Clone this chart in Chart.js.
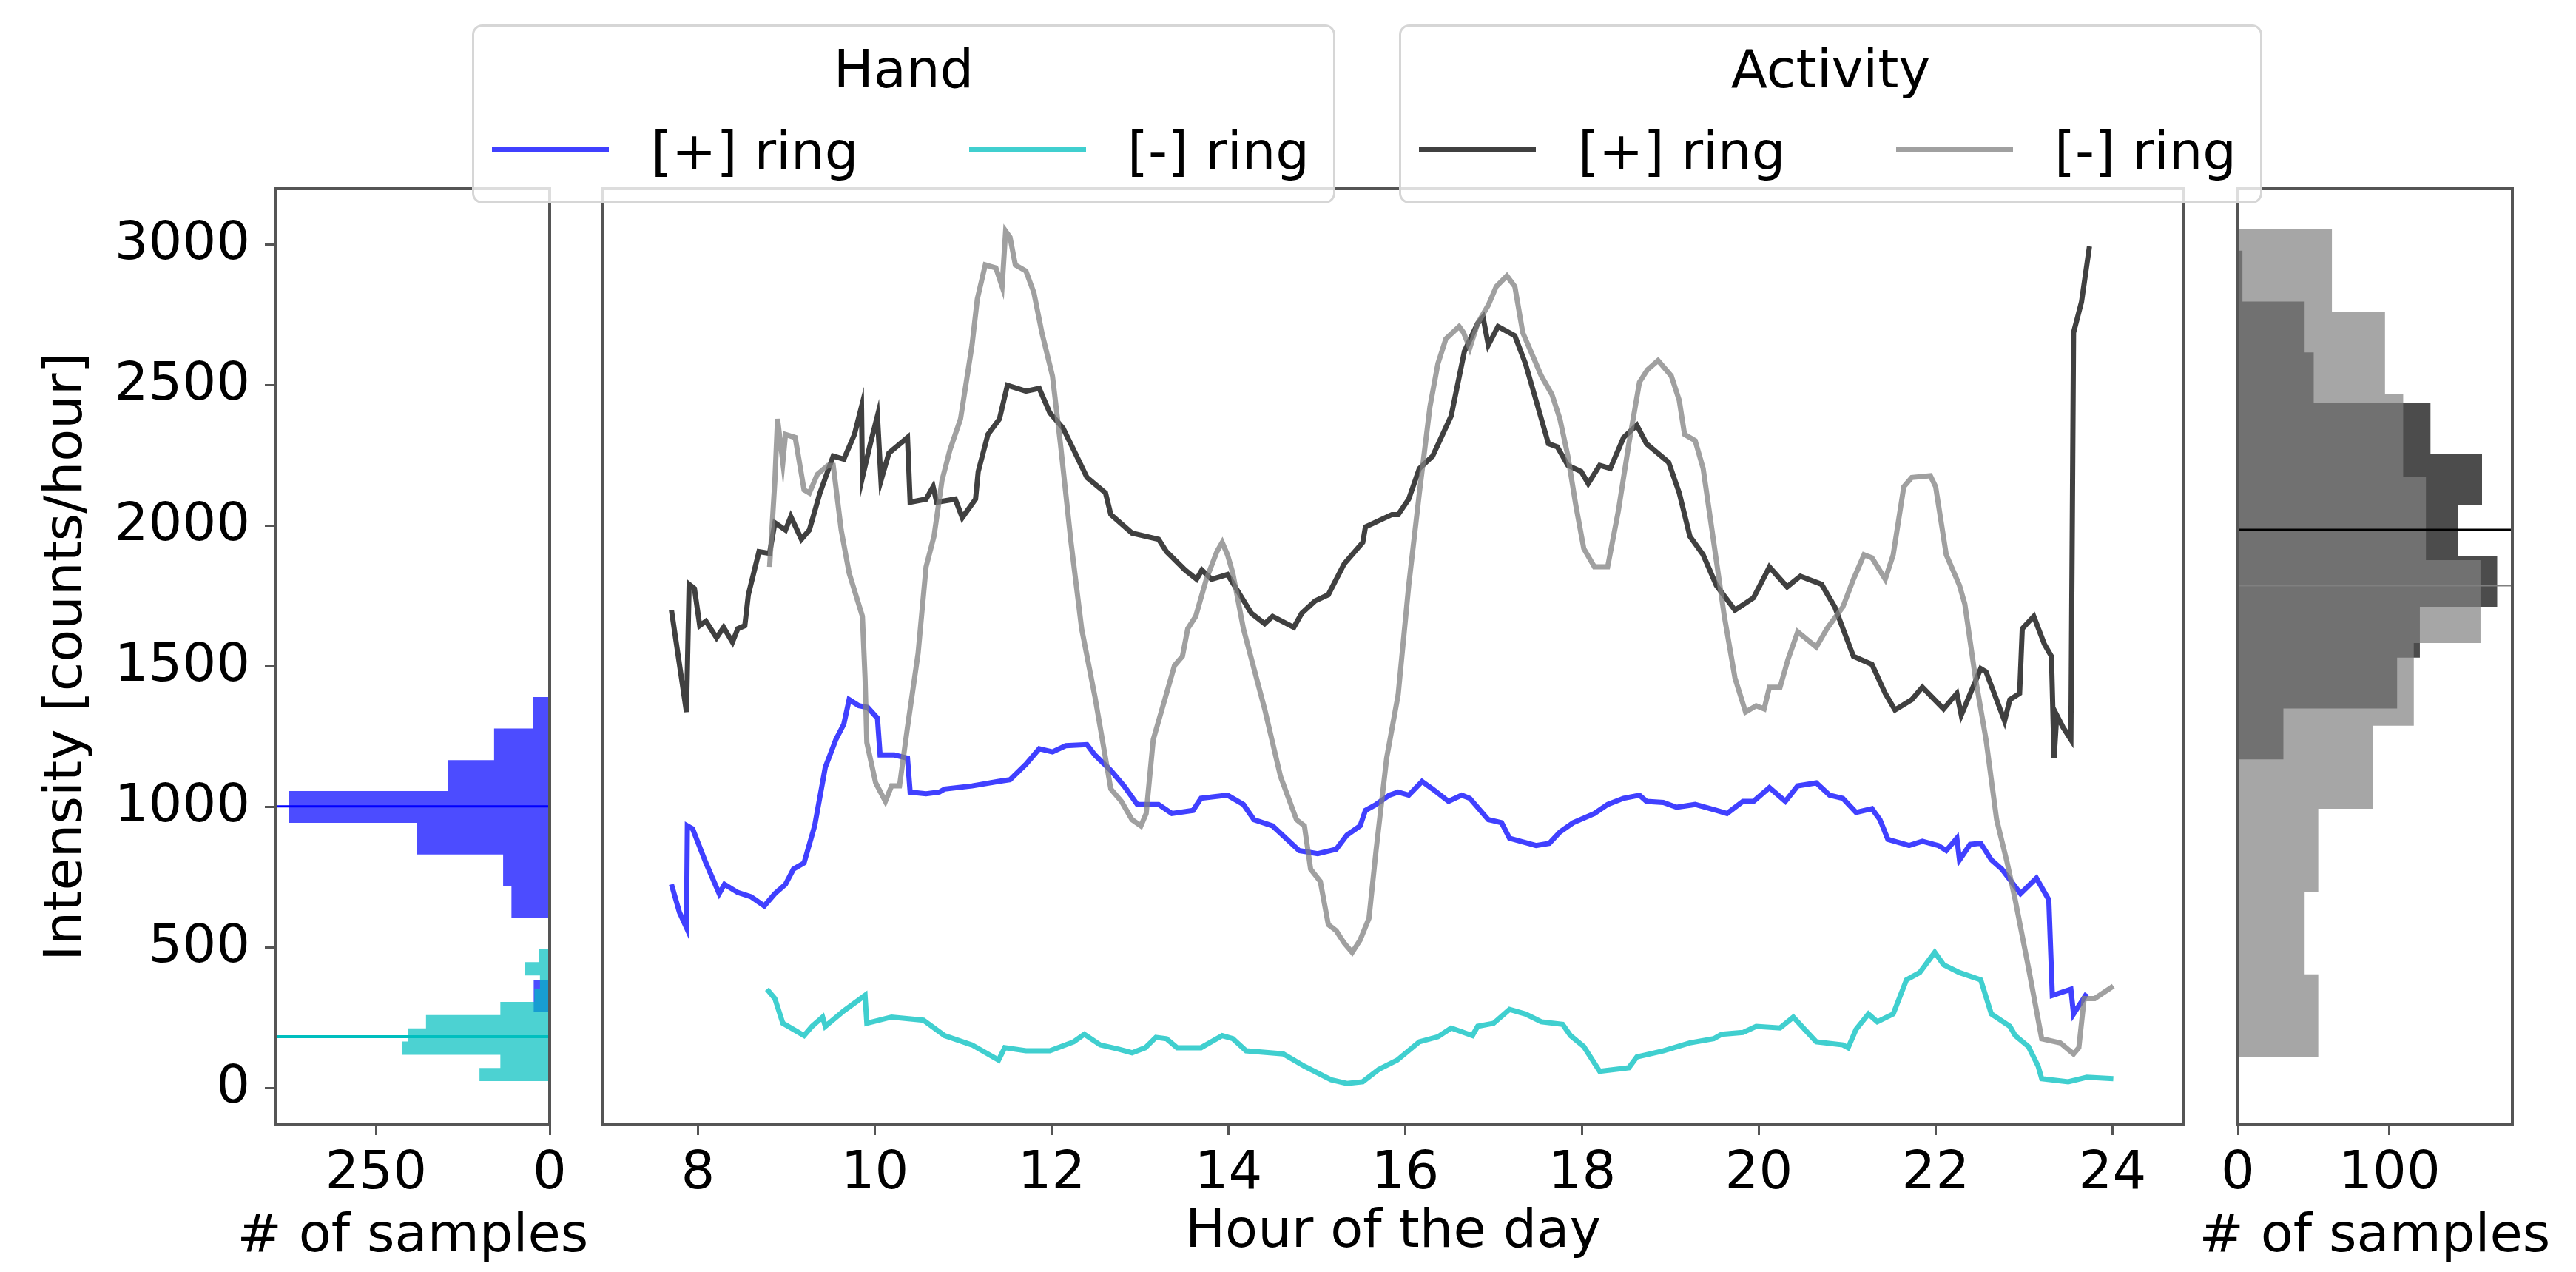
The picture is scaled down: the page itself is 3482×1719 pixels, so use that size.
<!DOCTYPE html>
<html><head><meta charset="utf-8">
<script src="https://cdn.jsdelivr.net/npm/chart.js@4/dist/chart.umd.min.js"></script>
<style>
html,body{margin:0;padding:0;background:#fff;}
#wrap{position:relative;width:3482px;height:1719px;overflow:hidden;background:#fff;font-family:'DejaVu Sans',sans-serif;}
canvas{position:absolute;left:0;top:0;}
.lg{position:absolute;top:33px;height:242px;box-sizing:border-box;border:3px solid #d6d6d6;border-radius:14px;background:rgba(255,255,255,0.8);}
.t{position:absolute;font-size:72px;line-height:72px;white-space:nowrap;color:#000;}
.h{position:absolute;height:7px;}
</style></head><body>
<div id="wrap">
<canvas id="cL" width="3482" height="1719"></canvas>
<canvas id="cM" width="3482" height="1719"></canvas>
<canvas id="cR" width="3482" height="1719"></canvas>
</div>
<script>
// ---------------- DATA ----------------
const hourTicks = [8, 10, 12, 14, 16, 18, 20, 22, 24];
const intensityTicks = [0, 500, 1000, 1500, 2000, 2500, 3000];
const leftCountTicks = [250, 0];
const rightCountTicks = [0, 100];

const legendGroups = ['Hand', 'Activity'];
const legendLabels = ['[+] ring', '[-] ring'];
const sampleAxisTitle = '# of samples';

// main lines: [hour, counts/hour]
const handPlusRing = [[7.70,726],[7.79,627],[7.87,572],[7.88,934],[7.94,923],[8.09,802],[8.24,693],[8.30,726],[8.45,697],[8.60,682],[8.75,649],[8.87,693],[8.99,726],[9.08,780],[9.20,802],[9.32,934],[9.44,1142],[9.56,1241],[9.65,1296],[9.71,1383],[9.82,1361],[9.92,1355],[10.03,1317],[10.06,1186],[10.22,1186],[10.37,1175],[10.40,1054],[10.58,1048],[10.73,1054],[10.79,1065],[11.10,1076],[11.40,1092],[11.53,1098],[11.71,1153],[11.86,1208],[12.01,1197],[12.16,1219],[12.40,1223],[12.49,1186],[12.67,1131],[12.82,1076],[12.97,1010],[13.21,1010],[13.36,978],[13.60,989],[13.69,1032],[13.99,1043],[14.17,1010],[14.29,956],[14.50,934],[14.65,890],[14.80,846],[15.01,835],[15.22,851],[15.34,901],[15.49,934],[15.55,989],[15.67,1010],[15.82,1043],[15.92,1054],[16.04,1043],[16.19,1092],[16.31,1065],[16.49,1021],[16.64,1043],[16.73,1032],[16.94,956],[17.09,945],[17.18,890],[17.48,864],[17.63,872],[17.75,912],[17.90,945],[18.14,978],[18.29,1010],[18.47,1032],[18.65,1043],[18.73,1021],[18.92,1017],[19.07,1000],[19.28,1010],[19.52,989],[19.64,978],[19.82,1021],[19.94,1021],[20.12,1070],[20.30,1021],[20.44,1076],[20.65,1087],[20.80,1043],[20.95,1032],[21.10,982],[21.28,995],[21.37,956],[21.46,886],[21.70,864],[21.85,879],[22.03,864],[22.12,846],[22.24,890],[22.27,813],[22.39,868],[22.51,872],[22.63,813],[22.75,780],[22.96,693],[23.14,748],[23.28,671],[23.32,331],[23.53,353],[23.56,265],[23.71,338]];

const handMinusRing = [[8.78,353],[8.87,320],[8.96,232],[9.20,188],[9.29,221],[9.41,254],[9.44,221],[9.65,276],[9.89,331],[9.91,232],[10.19,254],[10.55,243],[10.79,188],[11.10,155],[11.40,101],[11.47,145],[11.71,134],[11.98,134],[12.25,166],[12.37,193],[12.55,155],[12.76,140],[12.91,127],[13.06,145],[13.18,182],[13.30,177],[13.42,145],[13.69,145],[13.93,188],[14.05,177],[14.20,134],[14.62,123],[14.86,79],[15.16,31],[15.34,18],[15.52,24],[15.70,68],[15.91,101],[16.16,166],[16.37,184],[16.52,215],[16.76,188],[16.82,221],[17.00,232],[17.18,281],[17.36,265],[17.54,237],[17.78,228],[17.87,188],[18.02,149],[18.20,61],[18.53,74],[18.62,112],[18.92,134],[19.22,162],[19.49,177],[19.58,193],[19.82,199],[19.97,221],[20.24,215],[20.39,254],[20.53,206],[20.65,166],[20.95,155],[21.01,145],[21.10,210],[21.24,265],[21.34,237],[21.52,265],[21.67,386],[21.82,412],[21.99,484],[22.09,440],[22.27,412],[22.51,386],[22.63,265],[22.84,221],[22.90,188],[23.05,149],[23.16,79],[23.20,35],[23.50,24],[23.71,40],[24.01,35]];

const activityPlusRing = [[7.70,1701],[7.87,1339],[7.90,1793],[7.96,1778],[8.02,1646],[8.09,1662],[8.21,1603],[8.29,1640],[8.39,1587],[8.45,1635],[8.53,1646],[8.57,1756],[8.69,1909],[8.81,1903],[8.87,2012],[8.99,1986],[9.05,2034],[9.17,1953],[9.26,1986],[9.38,2118],[9.53,2249],[9.65,2238],[9.77,2326],[9.85,2425],[9.86,2173],[9.95,2293],[10.03,2392],[10.07,2162],[10.16,2260],[10.37,2315],[10.40,2085],[10.58,2096],[10.66,2140],[10.70,2085],[10.91,2096],[10.99,2030],[11.14,2096],[11.17,2194],[11.28,2326],[11.41,2381],[11.50,2501],[11.71,2480],[11.86,2490],[11.98,2403],[12.13,2348],[12.25,2271],[12.40,2173],[12.61,2118],[12.67,2041],[12.91,1975],[13.21,1953],[13.30,1909],[13.51,1844],[13.64,1811],[13.70,1844],[13.81,1811],[13.99,1828],[14.11,1767],[14.26,1690],[14.41,1653],[14.50,1679],[14.74,1640],[14.83,1690],[14.98,1734],[15.13,1756],[15.31,1866],[15.52,1942],[15.55,1997],[15.85,2041],[15.92,2041],[16.04,2096],[16.16,2205],[16.31,2249],[16.52,2392],[16.67,2622],[16.82,2721],[16.88,2743],[16.94,2644],[17.05,2710],[17.24,2677],[17.36,2578],[17.48,2447],[17.62,2293],[17.72,2282],[17.84,2216],[17.99,2194],[18.07,2151],[18.20,2216],[18.32,2205],[18.47,2315],[18.62,2359],[18.73,2293],[18.98,2227],[19.10,2118],[19.22,1964],[19.37,1898],[19.52,1789],[19.73,1701],[19.94,1745],[20.12,1855],[20.32,1784],[20.47,1822],[20.71,1793],[20.86,1712],[21.07,1537],[21.28,1508],[21.43,1405],[21.54,1346],[21.73,1383],[21.85,1427],[22.09,1350],[22.24,1405],[22.29,1328],[22.51,1493],[22.57,1482],[22.78,1307],[22.84,1383],[22.95,1405],[22.98,1635],[23.11,1679],[23.23,1580],[23.31,1537],[23.34,1175],[23.37,1328],[23.44,1285],[23.53,1241],[23.56,2688],[23.65,2797],[23.74,2995]];

const activityMinusRing = [[8.81,1855],[8.87,2162],[8.90,2381],[8.96,2227],[8.99,2326],[9.10,2315],[9.20,2129],[9.26,2118],[9.35,2184],[9.47,2216],[9.53,2216],[9.62,1986],[9.71,1833],[9.86,1679],[9.89,1460],[9.91,1230],[10.01,1087],[10.12,1021],[10.19,1076],[10.28,1076],[10.37,1285],[10.49,1548],[10.58,1855],[10.67,1964],[10.76,2162],[10.85,2271],[10.97,2381],[11.10,2644],[11.16,2808],[11.25,2929],[11.37,2918],[11.44,2852],[11.48,3049],[11.53,3027],[11.59,2929],[11.71,2907],[11.80,2830],[11.89,2688],[12.01,2534],[12.10,2293],[12.22,1942],[12.34,1635],[12.49,1394],[12.67,1065],[12.79,1021],[12.91,956],[13.01,934],[13.07,978],[13.15,1241],[13.27,1372],[13.39,1504],[13.48,1537],[13.54,1635],[13.63,1679],[13.75,1811],[13.87,1909],[13.93,1942],[13.99,1898],[14.05,1833],[14.17,1635],[14.41,1350],[14.59,1109],[14.77,956],[14.86,934],[14.93,780],[15.04,736],[15.13,583],[15.22,561],[15.31,517],[15.40,484],[15.49,528],[15.59,605],[15.67,846],[15.79,1175],[15.92,1400],[16.04,1790],[16.16,2118],[16.28,2425],[16.37,2578],[16.46,2666],[16.61,2710],[16.66,2688],[16.73,2633],[16.82,2721],[16.94,2786],[17.03,2852],[17.15,2890],[17.24,2852],[17.33,2688],[17.42,2622],[17.54,2534],[17.66,2468],[17.75,2381],[17.84,2249],[17.93,2074],[18.02,1920],[18.14,1855],[18.29,1855],[18.41,2052],[18.53,2293],[18.65,2512],[18.74,2556],[18.86,2589],[19.01,2534],[19.10,2447],[19.16,2326],[19.28,2304],[19.37,2205],[19.49,1942],[19.61,1679],[19.73,1460],[19.85,1339],[19.97,1361],[20.06,1350],[20.12,1427],[20.24,1427],[20.33,1526],[20.44,1624],[20.65,1570],[20.77,1635],[20.95,1712],[21.07,1811],[21.19,1898],[21.28,1887],[21.43,1811],[21.52,1898],[21.64,2140],[21.73,2173],[21.94,2179],[22.00,2140],[22.12,1898],[22.27,1789],[22.33,1723],[22.45,1460],[22.57,1241],[22.69,956],[22.81,802],[22.90,671],[23.05,430],[23.20,177],[23.41,162],[23.56,123],[23.62,145],[23.68,320],[23.80,320],[24.01,364]];

// histograms (bin edges in counts/hour, counts = # of samples)
const handPlusBinEdges = [272, 384, 496, 608, 720, 832, 945, 1058, 1168, 1280, 1392];
const handPlusCounts   = [23, 2, 2, 55, 67, 191, 375, 146, 80, 24];
const handMinusBinEdges = [26, 73, 120, 167, 214, 261, 308, 355, 402, 449, 496];
const handMinusCounts   = [101, 71, 213, 204, 178, 71, 22, 14, 36, 16];
const handPlusMedian = 1003;
const handMinusMedian = 184;

const activityPlusBinEdges = [1170, 1351, 1532, 1713, 1894, 2075, 2256, 2437, 2618, 2799, 2980];
const activityPlusCounts   = [30, 105, 120, 171, 145, 161, 127, 50, 44, 3];
const activityMinusBinEdges = [111, 406, 700, 995, 1290, 1584, 1879, 2174, 2469, 2763, 3058];
const activityMinusCounts   = [53, 44, 53, 89, 116, 160, 124, 109, 97, 62];
const activityPlusMedian = 1987;
const activityMinusMedian = 1789;

// ---------------- STYLE / LAYOUT ----------------
const COL = {
  handPlus: 'rgba(0,0,255,0.75)', handMinus: 'rgba(0,191,191,0.75)',
  actPlus: 'rgba(0,0,0,0.75)', actMinus: 'rgba(128,128,128,0.75)'
};
const FONT = {family: "'DejaVu Sans', sans-serif", size: 72};
Chart.defaults.font.family = FONT.family;
Chart.defaults.font.size = 72;
Chart.defaults.color = '#000';
const Y_MIN = -129, Y_MAX = 3200;
const W = 3482, H = 1719;
const AREA_TOP = 255, AREA_BOTTOM = 1520;
const LEFT_MAX = 394, RIGHT_MAX = 181;

const framePlugin = {
  id: 'frame',
  afterDatasetsDraw(chart) {
    const {ctx, chartArea: a} = chart;
    ctx.save();
    ctx.strokeStyle = '#555';
    ctx.lineWidth = 4;
    ctx.strokeRect(a.left, a.top, a.right - a.left, a.bottom - a.top);
    ctx.restore();
  }
};

const toPts = arr => arr.map(p => ({x: p[0], y: p[1]}));
// horizontal step outline of a histogram: each bin -> two points (count, lower edge), (count, upper edge)
const stepPts = (edges, counts) => counts.flatMap((c, i) => [{x: c, y: edges[i]}, {x: c, y: edges[i + 1]}]);
const setTicks = vals => s => { s.ticks = vals.map(v => ({value: v})); };
const tickGrid = len => ({display: true, drawOnChartArea: false, drawTicks: true, tickLength: len, tickWidth: 3, tickColor: '#555', offset: false});
const baseOpts = {responsive: false, animation: false, devicePixelRatio: 1,
  plugins: {legend: {display: false}, tooltip: {enabled: false}}};

function xAxis(min, max, tickVals, reverse, title) {
  return {type: 'linear', min, max, reverse, offset: false,
    afterFit: s => { s.height = H - AREA_BOTTOM; },
    afterBuildTicks: setTicks(tickVals),
    grid: tickGrid(14), border: {display: false},
    ticks: {padding: 10, maxRotation: 0, autoSkip: false, font: FONT, color: '#000', callback: v => String(v)},
    title: {display: !!title, text: title || '', font: FONT, color: '#000', padding: {top: 0, bottom: 10}}};
}
const histDs = (edges, counts, color, order) => ({type: 'line', indexAxis: 'y', data: stepPts(edges, counts),
  borderWidth: 0, borderColor: 'transparent', backgroundColor: color, fill: {value: 0}, pointRadius: 0, tension: 0, order});
const medianDs = (from, to, v, color, width, order) => ({type: 'line', data: [{x: from, y: v}, {x: to, y: v}],
  borderColor: color, borderWidth: width, pointRadius: 0, fill: false, order});

// ---------------- LEFT HISTOGRAM ----------------
new Chart(document.getElementById('cL'), {
  type: 'line',
  data: {datasets: [
    histDs(handPlusBinEdges, handPlusCounts, 'rgba(0,0,255,0.7)', 3),
    histDs(handMinusBinEdges, handMinusCounts, 'rgba(0,191,191,0.7)', 2),
    medianDs(LEFT_MAX, 0, handPlusMedian, '#0000ff', 3, 1),
    medianDs(LEFT_MAX, 0, handMinusMedian, '#00bfbf', 4, 0)
  ]},
  options: Object.assign({}, baseOpts, {
    layout: {padding: {left: 0, right: W - 743, top: AREA_TOP, bottom: 0}},
    scales: {
      x: xAxis(0, LEFT_MAX, leftCountTicks, true, null),
      y: {type: 'linear', position: 'left', min: Y_MIN, max: Y_MAX, offset: false,
        afterFit: s => { s.width = 373; },
        afterBuildTicks: setTicks(intensityTicks),
        grid: tickGrid(15), border: {display: false},
        ticks: {padding: 20, font: FONT, color: '#000', callback: v => String(v)},
        title: {display: true, text: 'Intensity [counts/hour]', font: FONT, color: '#000', padding: {top: 48, bottom: 0}}}
    }
  }),
  plugins: [framePlugin]
});

// ---------------- MAIN LINES ----------------
const lineDs = (label, arr, color, order) => ({label, data: toPts(arr), borderColor: color, borderWidth: 7,
  pointRadius: 0, tension: 0, fill: false, order});
new Chart(document.getElementById('cM'), {
  type: 'line',
  data: {datasets: [
    lineDs('Hand [+] ring', handPlusRing, COL.handPlus, 4),
    lineDs('Hand [-] ring', handMinusRing, COL.handMinus, 3),
    lineDs('Activity [+] ring', activityPlusRing, COL.actPlus, 2),
    lineDs('Activity [-] ring', activityMinusRing, COL.actMinus, 1)
  ]},
  options: Object.assign({}, baseOpts, {
    layout: {padding: {left: 815, right: W - 2951, top: AREA_TOP, bottom: 0}},
    scales: {
      x: xAxis(6.925, 24.80, hourTicks, false, 'Hour of the day'),
      y: {type: 'linear', display: false, min: Y_MIN, max: Y_MAX}
    }
  }),
  plugins: [framePlugin]
});

// ---------------- RIGHT HISTOGRAM ----------------
new Chart(document.getElementById('cR'), {
  type: 'line',
  data: {datasets: [
    histDs(activityPlusBinEdges, activityPlusCounts, 'rgba(0,0,0,0.7)', 3),
    histDs(activityMinusBinEdges, activityMinusCounts, 'rgba(128,128,128,0.7)', 2),
    medianDs(0, RIGHT_MAX, activityPlusMedian, '#000000', 3, 1),
    medianDs(0, RIGHT_MAX, activityMinusMedian, '#808080', 2.5, 0)
  ]},
  options: Object.assign({}, baseOpts, {
    layout: {padding: {left: 3025, right: W - 3396, top: AREA_TOP, bottom: 0}},
    scales: {
      x: xAxis(0, RIGHT_MAX, rightCountTicks, false, null),
      y: {type: 'linear', display: false, min: Y_MIN, max: Y_MAX, offset: false}
    }
  }),
  plugins: [framePlugin]
});

// ---------------- HTML TEXT (legends, histogram axis titles) ----------------
const wrap = document.getElementById('wrap');
function el(cls, css, text) {
  const d = document.createElement('div');
  d.className = cls;
  Object.assign(d.style, css);
  if (text !== undefined) d.textContent = text;
  wrap.appendChild(d);
  return d;
}
[558, 3210].forEach(cx => el('t', {left: (cx - 400) + 'px', width: '800px', top: '1630px', textAlign: 'center'}, sampleAxisTitle));

const legendColors = [[COL.handPlus, COL.handMinus], [COL.actPlus, COL.actMinus]];
const boxLefts = [638, 1891];
boxLefts.forEach((bx, g) => {
  el('lg', {left: bx + 'px', width: '1167px'});
  el('t', {left: bx + 'px', width: '1167px', top: '57px', textAlign: 'center'}, legendGroups[g]);
  const hx = [27, 672], tx = [242, 886];
  legendLabels.forEach((lab, k) => {
    el('h', {left: (bx + hx[k]) + 'px', width: '158px', top: '199px', background: legendColors[g][k]});
    el('t', {left: (bx + tx[k]) + 'px', top: '168px'}, lab);
  });
});
</script>
</body></html>
